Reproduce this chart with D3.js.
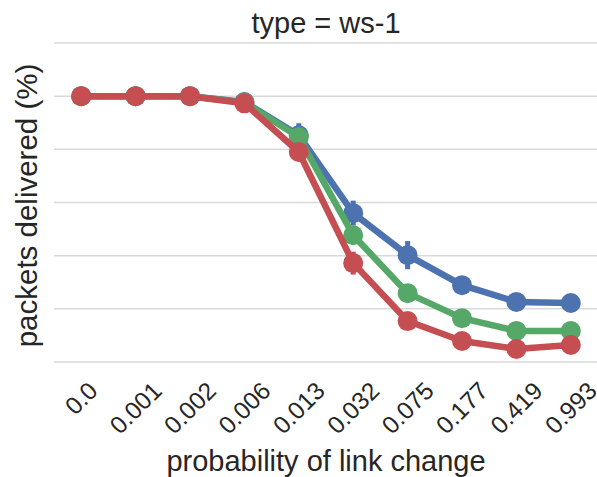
<!DOCTYPE html>
<html>
<head>
<meta charset="utf-8">
<script src="https://cdn.jsdelivr.net/npm/d3@7"></script>
<style>
    body { margin: 0; background: #fff; }
    text { font-family: "Liberation Sans", Arial, sans-serif; fill: #262626; }
</style>
</head>
<body>
<div id="chart"></div>
<script>
// categories (x tick labels)
const probabilities = ["0.0", "0.001", "0.002", "0.006", "0.013", "0.032", "0.075", "0.177", "0.419", "0.993"];

// series values (packets delivered, %)
const blueValues  = [100, 100, 100, 97.8, 85.3, 56.0, 40.2, 28.9, 22.6, 22.2];
const greenValues = [100, 100, 100, 97.6, 84.6, 47.7, 25.9, 16.5, 11.7, 11.7];
const redValues   = [100, 100, 100, 97.3, 79.0, 37.2, 15.4, 7.9, 4.9, 6.4];

// half-width of the error bars (%)
const blueErr  = [0, 0, 0, 0.6, 4.5, 4.7, 5.3, 1.2, 1.0, 1.0];
const greenErr = [0, 0, 0, 0.5, 1.5, 2.5, 1.5, 1.0, 1.0, 1.0];
const redErr   = [0, 0, 0, 0.5, 1.5, 4.3, 1.2, 1.0, 1.0, 1.0];

const yTicks = [0, 20, 40, 60, 80, 100, 120];

const series = [
    { name: "blue",  color: "#4C72B0", values: blueValues,  err: blueErr },
    { name: "green", color: "#55A868", values: greenValues, err: greenErr },
    { name: "red",   color: "#C44E52", values: redValues,   err: redErr }
];

const width = 597, height = 477;
const svg = d3.select("#chart").append("svg")
    .attr("width", width)
    .attr("height", height);

const xScale = d3.scalePoint()
    .domain(probabilities)
    .range([54, 598])
    .padding(0.5);

const yScale = d3.scaleLinear()
    .domain([0, 120])
    .range([362, 43]);

// horizontal grid
svg.append("g")
    .selectAll("line")
    .data(yTicks)
    .join("line")
    .attr("x1", 54)
    .attr("x2", 598)
    .attr("y1", d => yScale(d))
    .attr("y2", d => yScale(d))
    .attr("stroke", "#d9d9d9")
    .attr("stroke-width", 1.5);

const line = d3.line()
    .x((d, i) => xScale(probabilities[i]))
    .y(d => yScale(d));

series.forEach(s => {
    const g = svg.append("g");

    // error bars
    g.selectAll("line.err")
        .data(s.values)
        .join("line")
        .attr("class", "err")
        .attr("x1", (d, i) => xScale(probabilities[i]))
        .attr("x2", (d, i) => xScale(probabilities[i]))
        .attr("y1", (d, i) => yScale(d - s.err[i]))
        .attr("y2", (d, i) => yScale(d + s.err[i]))
        .attr("stroke", s.color)
        .attr("stroke-width", 5);

    g.append("path")
        .datum(s.values)
        .attr("d", line)
        .attr("fill", "none")
        .attr("stroke", s.color)
        .attr("stroke-width", 6.5)
        .attr("stroke-linejoin", "round");

    g.selectAll("circle")
        .data(s.values)
        .join("circle")
        .attr("cx", (d, i) => xScale(probabilities[i]))
        .attr("cy", d => yScale(d))
        .attr("r", 10)
        .attr("fill", s.color);
});

// x tick labels, rotated 45 degrees, centred under the tick
const tickSize = 24.5;
const tickGroup = svg.append("g");
probabilities.forEach(p => {
    const t = tickGroup.append("text")
        .attr("font-size", tickSize)
        .attr("text-anchor", "middle")
        .attr("dominant-baseline", "central")
        .text(p);
    const w = t.node().getComputedTextLength();
    const h = tickSize * 0.72;
    const cy = 380 + (w + h) * 0.7071 / 2;
    t.attr("transform", `translate(${xScale(p)},${cy}) rotate(-45)`);
});

// title
svg.append("text")
    .attr("x", 326)
    .attr("y", 33)
    .attr("text-anchor", "middle")
    .attr("font-size", 29)
    .text("type = ws-1");

// x axis label
svg.append("text")
    .attr("x", 326)
    .attr("y", 471)
    .attr("text-anchor", "middle")
    .attr("font-size", 29)
    .text("probability of link change");

// y axis label
svg.append("text")
    .attr("transform", "translate(37,205.5) rotate(-90)")
    .attr("text-anchor", "middle")
    .attr("font-size", 29.5)
    .text("packets delivered (%)");
</script>
</body>
</html>
